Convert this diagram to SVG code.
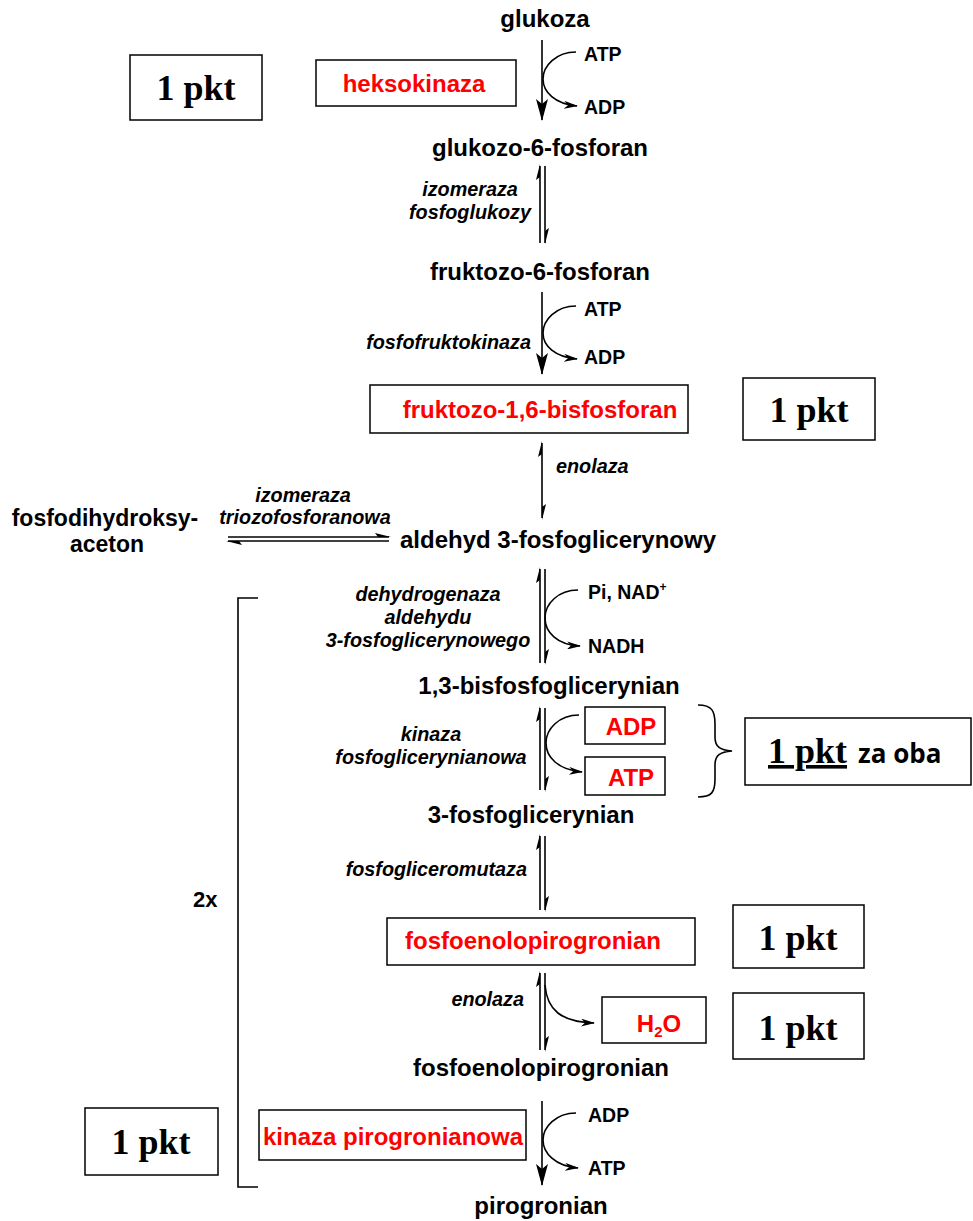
<svg xmlns="http://www.w3.org/2000/svg" width="973" height="1221" viewBox="0 0 973 1221">
<style>
.lbl{font-family:"Liberation Sans",Arial,sans-serif;font-weight:bold;font-size:24px;fill:#000;text-anchor:middle}
.it{font-family:"Liberation Sans",Arial,sans-serif;font-weight:bold;font-style:italic;font-size:19.8px;fill:#000;text-anchor:middle}
.itr{font-family:"Liberation Sans",Arial,sans-serif;font-weight:bold;font-style:italic;font-size:19.8px;fill:#000;text-anchor:end}
.co{font-family:"Liberation Sans",Arial,sans-serif;font-weight:bold;font-size:19.5px;fill:#000}
.red{font-family:"Liberation Sans",Arial,sans-serif;font-weight:bold;font-size:24px;fill:#ff0000;text-anchor:middle}
.pkt{font-family:"Liberation Serif","Times New Roman",serif;font-weight:bold;font-size:36px;fill:#000;text-anchor:middle}
.box{fill:#fff;stroke:#000;stroke-width:1.5}
.ln{stroke:#000;stroke-width:1.6;fill:none}
.hh{fill:#000}
</style>
<defs>
<marker id="ah" viewBox="0 0 14 8" refX="13" refY="4" markerWidth="14" markerHeight="8" markerUnits="userSpaceOnUse" orient="auto"><path d="M0,0 L14,4 L0,8 L4,4 Z" fill="#000"/></marker>
<marker id="big" viewBox="0 0 22 12" refX="21" refY="6" markerWidth="22" markerHeight="12" markerUnits="userSpaceOnUse" orient="auto"><path d="M0,0 L22,6 L0,12 L5,6 Z" fill="#000"/></marker>
</defs>

<g id="connectors">
<line class="ln" x1="542" y1="40" x2="542" y2="120" marker-end="url(#big)"/>
<path class="ln" d="M576,52 C556,52 543,66 543,79 C543,92 555,104 577,106" marker-end="url(#ah)"/>
<line class="ln" x1="540" y1="166" x2="540" y2="243"/>
<line class="ln" x1="545" y1="166" x2="545" y2="243"/>
<polygon class="hh" points="540,164 536,180 540,177"/>
<polygon class="hh" points="545,244 549,228 545,231"/>
<line class="ln" x1="542" y1="292" x2="542" y2="374" marker-end="url(#big)"/>
<path class="ln" d="M576,306 C556,306 543,320 543,333 C543,346 555,357 577,359" marker-end="url(#ah)"/>
<line class="ln" x1="542" y1="443" x2="542" y2="518"/>
<polygon class="hh" points="542,441 538,457 542,454"/>
<polygon class="hh" points="542,520 546,504 542,507"/>
<line class="ln" x1="228" y1="537" x2="389" y2="537"/>
<line class="ln" x1="228" y1="541" x2="389" y2="541"/>
<polygon class="hh" points="391,537 375,533 378,537"/>
<polygon class="hh" points="226,541 242,545 239,541"/>
<line class="ln" x1="540" y1="569" x2="540" y2="663"/>
<line class="ln" x1="545" y1="569" x2="545" y2="663"/>
<polygon class="hh" points="540,567 536,583 540,580"/>
<polygon class="hh" points="545,665 549,649 545,652"/>
<path class="ln" d="M578,590 C558,590 545,604 545,618 C545,632 557,645 580,646" marker-end="url(#ah)"/>
<line class="ln" x1="540" y1="708" x2="540" y2="790"/>
<line class="ln" x1="545" y1="708" x2="545" y2="790"/>
<polygon class="hh" points="540,706 536,722 540,719"/>
<polygon class="hh" points="545,792 549,776 545,779"/>
<path class="ln" d="M579,715 C559,715 546,729 546,743 C546,757 558,770 582,772" marker-end="url(#ah)"/>
<line class="ln" x1="540" y1="836" x2="540" y2="910"/>
<line class="ln" x1="545" y1="836" x2="545" y2="910"/>
<polygon class="hh" points="540,834 536,850 540,847"/>
<polygon class="hh" points="545,912 549,896 545,899"/>
<line class="ln" x1="540" y1="973" x2="540" y2="1050"/>
<line class="ln" x1="545" y1="973" x2="545" y2="1050"/>
<polygon class="hh" points="540,971 536,987 540,984"/>
<polygon class="hh" points="545,1052 549,1036 545,1039"/>
<path class="ln" d="M545,985 C547,1010 561,1022 594,1023" marker-end="url(#ah)"/>
<line class="ln" x1="542" y1="1101" x2="542" y2="1185" marker-end="url(#big)"/>
<path class="ln" d="M576,1113 C556,1113 543,1127 543,1140 C543,1153 555,1166 578,1168" marker-end="url(#ah)"/>
<polyline class="ln" points="258,598 238,598 238,1187 258,1187"/>
<path class="ln" d="M698,705 C712,705 715,711 715,724 L715,737 C715,747 720,750 732,751 C720,752 715,755 715,765 L715,779 C715,792 712,797 698,797"/>
</g>

<g id="n-glukoza"><text class="lbl" x="545" y="27">glukoza</text></g>
<g id="n-heksokinaza"><rect class="box" x="316" y="60" width="200" height="46"/><text class="red" x="414" y="92">heksokinaza</text></g>
<g id="n-pkt1"><rect class="box" x="130" y="55" width="132" height="65"/><text class="pkt" x="196" y="100">1 pkt</text></g>
<g id="n-atp1"><text class="co" x="584" y="61">ATP</text><text class="co" x="584" y="114">ADP</text></g>
<g id="n-g6p"><text class="lbl" x="540" y="156">glukozo-6-fosforan</text></g>
<g id="n-izo1"><text class="it" x="470" y="196">izomeraza</text><text class="it" x="470" y="219">fosfoglukozy</text></g>
<g id="n-f6p"><text class="lbl" x="540" y="280">fruktozo-6-fosforan</text></g>
<g id="n-atp2"><text class="co" x="584" y="316">ATP</text><text class="co" x="584" y="364">ADP</text></g>
<g id="n-pfk"><text class="itr" x="531" y="349">fosfofruktokinaza</text></g>
<g id="n-f16bp"><rect class="box" x="370" y="385" width="318" height="48"/><text class="red" x="540" y="418">fruktozo-1,6-bisfosforan</text></g>
<g id="n-pkt2"><rect class="box" x="743" y="378" width="132" height="62"/><text class="pkt" x="809" y="422">1 pkt</text></g>
<g id="n-enolaza1"><text class="it" x="556" y="473" style="text-anchor:start">enolaza</text></g>
<g id="n-dhap"><text class="lbl" x="105" y="526" style="font-size:23px">fosfodihydroksy-</text><text class="lbl" x="107" y="552" style="font-size:23px">aceton</text></g>
<g id="n-tpi"><text class="it" x="303" y="502">izomeraza</text><text class="it" x="305" y="524">triozofosforanowa</text></g>
<g id="n-gap"><text class="lbl" x="558" y="548">aldehyd 3-fosfoglicerynowy</text></g>
<g id="n-gapdh"><text class="it" x="428" y="601">dehydrogenaza</text><text class="it" x="428" y="624">aldehydu</text><text class="it" x="428" y="647">3-fosfoglicerynowego</text></g>
<g id="n-nad"><text class="co" x="588" y="599">Pi, NAD<tspan dy="-8" font-size="12">+</tspan></text><text class="co" x="588" y="653">NADH</text></g>
<g id="n-bpg"><text class="lbl" x="549" y="694">1,3-bisfosfoglicerynian</text></g>
<g id="n-pgk"><text class="it" x="431" y="741">kinaza</text><text class="it" x="431" y="764">fosfoglicerynianowa</text></g>
<g id="n-adp3"><rect class="box" x="585" y="707" width="80" height="37"/><text class="red" x="631" y="735">ADP</text></g>
<g id="n-atp3"><rect class="box" x="585" y="757" width="80" height="38"/><text class="red" x="631" y="786">ATP</text></g>
<g id="n-pkt3"><rect class="box" x="745" y="718" width="226" height="67"/><text class="pkt" x="768" y="763" style="text-anchor:start;text-decoration:underline">1 pkt</text><text x="858" y="763" font-family="'Open Sans','Liberation Sans',sans-serif" font-weight="bold" font-size="26" fill="#000">za oba</text></g>
<g id="n-3pg"><text class="lbl" x="531" y="823">3-fosfoglicerynian</text></g>
<g id="n-pgm"><text class="itr" x="527" y="876">fosfogliceromutaza</text></g>
<g id="n-2x"><text class="co" x="193" y="907" style="font-size:22px">2x</text></g>
<g id="n-pep1"><rect class="box" x="387" y="918" width="308" height="47"/><text class="red" x="533" y="949">fosfoenolopirogronian</text></g>
<g id="n-pkt4"><rect class="box" x="733" y="905" width="131" height="63"/><text class="pkt" x="798" y="950">1 pkt</text></g>
<g id="n-enolaza2"><text class="itr" x="524" y="1006">enolaza</text></g>
<g id="n-h2o"><rect class="box" x="602" y="997" width="104" height="46"/><text class="red" x="659" y="1032">H<tspan font-size="15" dy="5">2</tspan><tspan dy="-5">O</tspan></text></g>
<g id="n-pkt5"><rect class="box" x="733" y="993" width="131" height="66"/><text class="pkt" x="798" y="1040">1 pkt</text></g>
<g id="n-pep2"><text class="lbl" x="541" y="1076">fosfoenolopirogronian</text></g>
<g id="n-pk"><rect class="box" x="259" y="1110" width="267" height="50"/><text class="red" x="393" y="1145">kinaza pirogronianowa</text></g>
<g id="n-adp4"><text class="co" x="588" y="1122">ADP</text><text class="co" x="588" y="1175">ATP</text></g>
<g id="n-pkt6"><rect class="box" x="85" y="1108" width="133" height="67"/><text class="pkt" x="151" y="1154">1 pkt</text></g>
<g id="n-pyr"><text class="lbl" x="541" y="1214">pirogronian</text></g>
</svg>
